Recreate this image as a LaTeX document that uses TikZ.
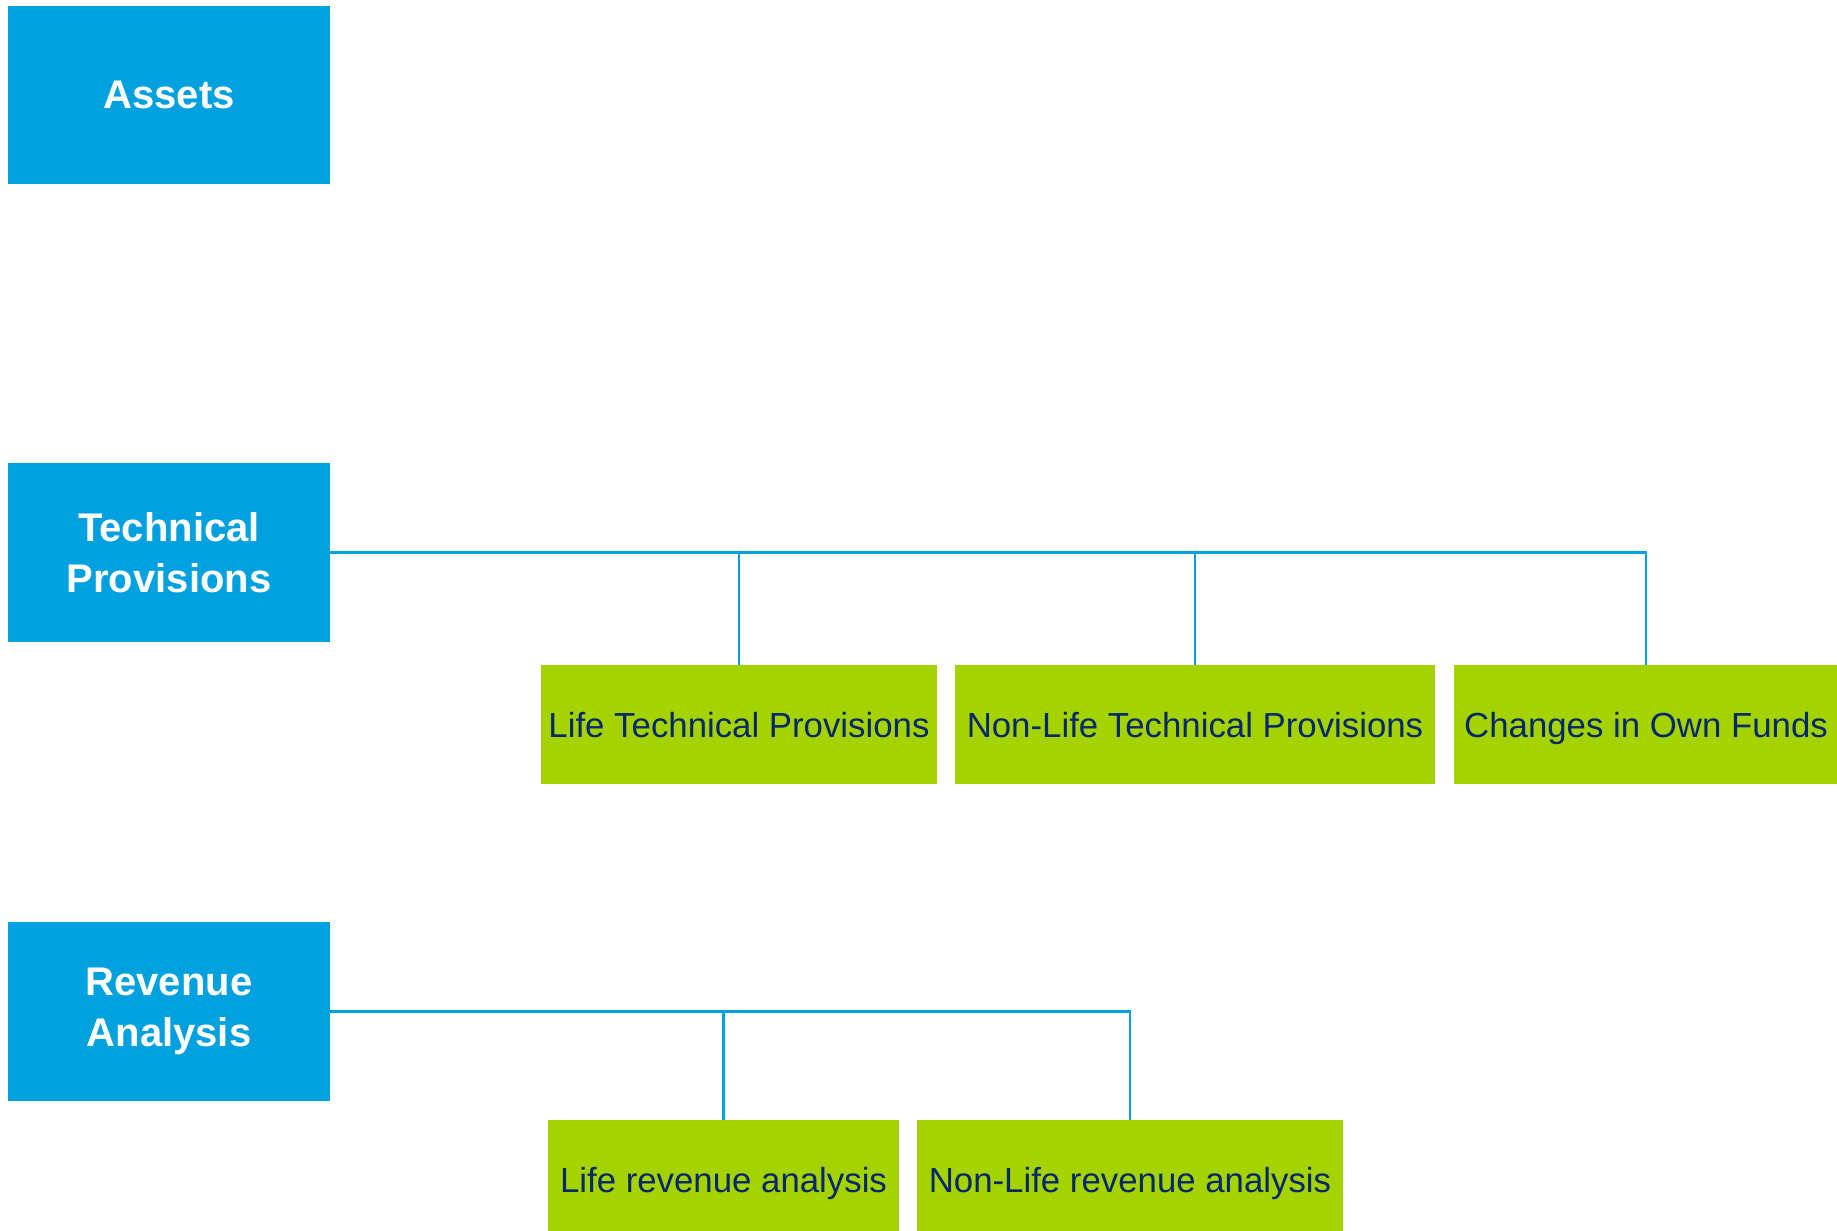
\documentclass[tikz,border=0pt]{standalone}
\usepackage{fontspec}
\setmainfont{Liberation Sans}
\definecolor{boxblue}{RGB}{0,161,222}
\definecolor{boxgreen}{RGB}{164,211,0}
\definecolor{navy}{RGB}{8,40,110}
\tikzset{
  parentbox/.style={rectangle, fill=boxblue, inner sep=0pt, minimum width=322pt, minimum height=179pt,
    text=white, align=center, font=\bfseries\fontsize{40}{51.5}\selectfont},
  childbox/.style={rectangle, fill=boxgreen, inner sep=0pt, minimum height=119pt,
    text height=25pt, text depth=0pt,
    text=navy, align=center, font=\fontsize{34.8}{42}\selectfont},
  link/.style={draw=boxblue, line width=2.2pt}
}
\begin{document}
\begin{tikzpicture}[x=1pt,y=-1pt]
\useasboundingbox (0,0) rectangle (1837,1231);
\node[parentbox, minimum height=178pt] (as) at (169,95) {Assets};
\node[parentbox] (tp) at (169,552.5) {Technical\\Provisions};
\node[parentbox] (ra) at (169,1011.5) {Revenue\\Analysis};
\node[childbox, minimum width=396pt] (ltp) at (739,724.5) {Life Technical Provisions};
\node[childbox, minimum width=480pt] (ntp) at (1195,724.5) {Non-Life Technical Provisions};
\node[childbox, minimum width=384pt] (cof) at (1646,724.5) {Changes in Own Funds};
\node[childbox, minimum width=351pt, minimum height=120pt] (lra) at (723.5,1180) {Life revenue analysis};
\node[childbox, minimum width=426pt, minimum height=120pt] (nra) at (1130,1180) {Non-Life revenue analysis};
\draw[link] (tp.east) -| (ltp.north);
\draw[link] (tp.east) -| (ntp.north);
\draw[link] (tp.east) -| (cof.north);
\draw[link] (ra.east) -| (lra.north);
\draw[link] (ra.east) -| (nra.north);
\end{tikzpicture}
\end{document}
